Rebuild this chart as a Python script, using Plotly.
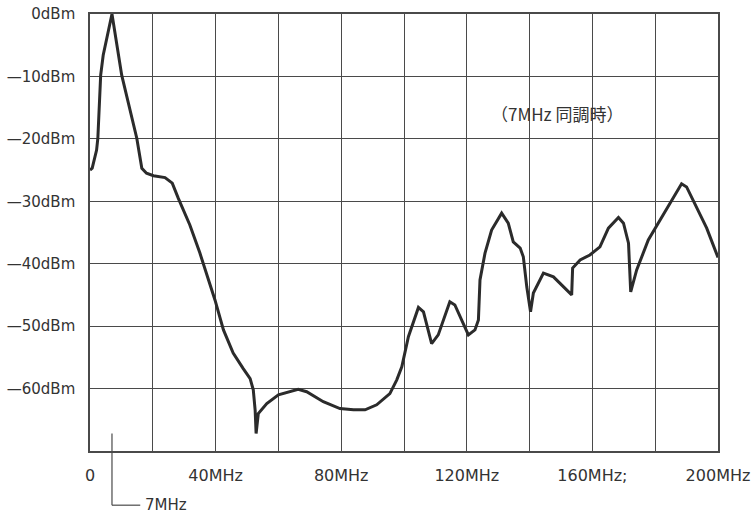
import plotly.graph_objects as go

# Spurious response of the receiver front end, tuned to 7 MHz
freq_mhz = [0, 0.7, 2.1, 2.5, 3.4, 4.2, 7, 10.1, 14.9, 16.5, 18.0, 20.2, 23.9, 26.2,
            28.1, 31.8, 35.0, 39.8, 42.5, 45.6, 48.8, 51.0, 52.0, 52.6, 52.9, 53.6,
            56.3, 60.0, 66.3, 69.0, 74.3, 79.6, 83.9, 87.6, 91.3, 95.5, 97.7, 99.3,
            101.4, 104.6, 106.2, 108.8, 110.9, 114.6, 116.2, 118.4, 120.5, 122.6,
            123.7, 124.2, 125.8, 127.9, 131.1, 133.2, 134.8, 137.0, 138.0, 139.1,
            140.3, 141.2, 144.4, 147.6, 153.4, 153.7, 156.1, 159.2, 162.4, 165.1,
            168.3, 169.9, 171.5, 172.2, 174.1, 177.8, 181.5, 185.3, 188.4, 190.0,
            193.2, 196.4, 200]
level_dbm = [-25, -24.7, -21.8, -19.9, -9.8, -6.6, 0, -9.8, -19.9, -24.7, -25.5, -25.9,
             -26.2, -27.1, -29.5, -33.8, -38.3, -45.8, -50.6, -54.3, -56.8, -58.4,
             -60.2, -63.5, -67.2, -64.0, -62.4, -61.0, -60.1, -60.5, -62.1, -63.2,
             -63.4, -63.4, -62.6, -60.8, -58.6, -56.5, -51.7, -47.0, -47.7, -52.8,
             -51.4, -46.1, -46.6, -49.0, -51.4, -50.6, -49.0, -42.6, -38.3, -34.6,
             -31.9, -33.5, -36.5, -37.5, -38.9, -43.7, -47.7, -44.7, -41.5, -42.1,
             -45.0, -40.7, -39.4, -38.6, -37.3, -34.3, -32.6, -33.5, -36.7, -44.5,
             -41.0, -36.2, -33.0, -29.8, -27.2, -27.7, -30.9, -34.3, -39.0]

x_grid = [0, 20, 40, 60, 80, 100, 120, 140, 160, 180, 200]
x_labels = ["0", "", "40MHz", "", "80MHz", "", "120MHz", "", "160MHz;", "", "200MHz"]
y_grid = [0, -10, -20, -30, -40, -50, -60, -70]
y_labels = ["0dBm", "—10dBm", "—20dBm", "—30dBm", "—40dBm", "—50dBm", "—60dBm", ""]

tuned_mhz = 7
x_max = 200
note_text = "（7MHz 同調時）"

ink = "#2b2b2b"
grid_ink = "#4a4a4a"

fig = go.Figure()
fig.add_trace(go.Scatter(
    x=freq_mhz, y=level_dbm, mode="lines",
    line=dict(color=ink, width=3),
    cliponaxis=False, hoverinfo="skip",
))

fig.update_xaxes(
    range=[0, x_max], tickvals=x_grid, ticktext=x_labels,
    showgrid=True, gridcolor=grid_ink, gridwidth=1.2,
    showline=True, linecolor=grid_ink, linewidth=1.5, mirror=True,
    ticks="", ticklabelstandoff=9, zeroline=False, automargin=False,
    tickfont=dict(family="DejaVu Sans", size=16, color="#333"),
)
fig.update_yaxes(
    range=[-70, 0], tickvals=y_grid, ticktext=y_labels,
    showgrid=True, gridcolor=grid_ink, gridwidth=1.2,
    showline=True, linecolor=grid_ink, linewidth=1.5, mirror=True,
    ticks="", ticklabelstandoff=10, zeroline=False, automargin=False,
    tickfont=dict(family="DejaVu Sans", size=15, color="#333"),
)

# marker for the tuned frequency, drawn down below the axis
tx = tuned_mhz / x_max
fig.add_shape(type="line", xref="paper", yref="paper",
              x0=tx, x1=tx, y0=0.04, y1=-0.124,
              line=dict(color=grid_ink, width=1.2))
fig.add_shape(type="line", xref="paper", yref="paper",
              x0=tx, x1=tx + 0.045, y0=-0.124, y1=-0.124,
              line=dict(color=grid_ink, width=1.2))
fig.add_annotation(xref="paper", yref="paper", x=tx + 0.05, y=-0.124,
                   text=f"{tuned_mhz}MHz", showarrow=False, xanchor="left",
                   yanchor="middle",
                   font=dict(family="DejaVu Sans", size=15, color="#333"))

fig.add_annotation(x=127, y=-16, text=note_text, showarrow=False,
                   xanchor="left", yanchor="middle",
                   font=dict(family="Noto Sans CJK JP", size=17, color="#333"))

fig.update_layout(
    width=751, height=518,
    margin=dict(l=90, r=33, t=14, b=67),
    paper_bgcolor="white", plot_bgcolor="white",
    showlegend=False,
)

fig.write_html("out.html")
